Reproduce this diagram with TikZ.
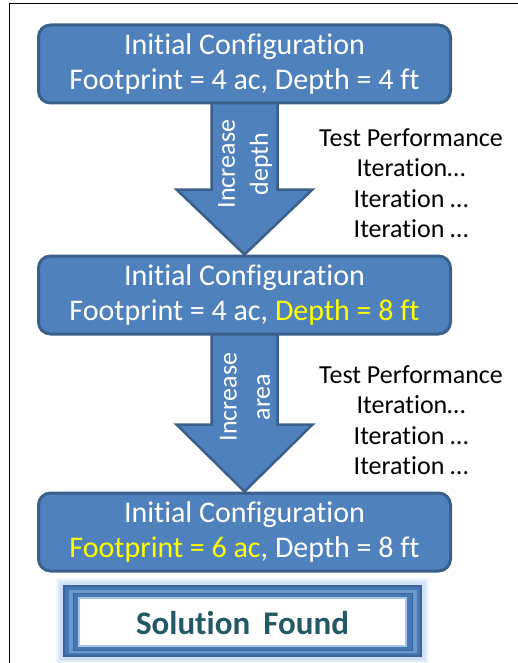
\documentclass[tikz,border=0pt]{standalone}
\usepackage{fontspec}
\setmainfont{Carlito}[Ligatures={NoCommon,NoRequired,NoContextual},RawFeature=-calt,RawFeature=-liga,RawFeature=-dlig]
\usetikzlibrary{calc,backgrounds}
\definecolor{boxfill}{HTML}{4F81BD}
\definecolor{boxline}{HTML}{3A5F8B}
\definecolor{soltext}{HTML}{215967}
\definecolor{glowc}{HTML}{C6DBF5}
\definecolor{hilite}{HTML}{FFFF00}
\definecolor{frameouter}{HTML}{4677B5}
\definecolor{framemid}{HTML}{6A98D0}
\definecolor{framedark}{HTML}{3B6596}
\definecolor{innerline}{HTML}{A9C6EA}
\tikzset{
  cfgbox/.style={draw=boxline, fill=boxfill, line width=3pt, rounded corners=12pt,
    minimum width=412pt, minimum height=78pt, align=center, text=white,
    font=\fontsize{30pt}{35pt}\selectfont},
  blockarrow/.style={draw=boxline, fill=boxfill, line width=2.5pt, line join=miter},
  arrowtext/.style={rotate=90, align=center, text=white, font=\fontsize{26pt}{33pt}\selectfont},
  sidetext/.style={align=center, text=black, font=\fontsize{26pt}{30.5pt}\selectfont},
  soltxt/.style={text=soltext, font=\fontsize{33pt}{38pt}\selectfont\bfseries},
}
\begin{document}
\begin{tikzpicture}[x=1pt,y=-1pt]
\useasboundingbox (0,0) rectangle (518,663);
% frame lines
\draw[line width=1.3pt] (9.5,663) -- (9.5,3.5) -- (518,3.5);

\node[cfgbox] (b1) at (244.5,64) {Initial Configuration\\Footprint = 4 ac, Depth = 4 ft};
\node[cfgbox] (b2) at (244.5,295) {Initial Configuration\\Footprint = 4 ac, \textcolor{hilite}{Depth = 8 ft}};
\node[cfgbox] (b3) at (244.5,532) {Initial Configuration\\\textcolor{hilite}{Footprint = 6 ac}, Depth = 8 ft};

\begin{scope}[on background layer]
\draw[blockarrow] ($(b1.south)+(-33,-3)$) -- ($(b2.north)+(-33,-65)$) -- ($(b2.north)+(-68,-65)$)
  -- (b2.north) -- ($(b2.north)+(68,-65)$) -- ($(b2.north)+(33,-65)$) -- ($(b1.south)+(33,-3)$) -- cycle;
\draw[blockarrow] ($(b2.south)+(-33,-3)$) -- ($(b3.north)+(-33,-67)$) -- ($(b3.north)+(-68,-67)$)
  -- (b3.north) -- ($(b3.north)+(68,-67)$) -- ($(b3.north)+(33,-67)$) -- ($(b2.south)+(33,-3)$) -- cycle;
\end{scope}

\node[arrowtext] (t1) at (245,164) {Increase\\depth};
\node[arrowtext] (t2) at (245,397) {Increase\\area};

\node[sidetext] (s1) at (411,183) {Test Performance\\Iteration…\\Iteration …\\Iteration …};
\node[sidetext] (s2) at (411,420) {Test Performance\\Iteration…\\Iteration …\\Iteration …};

% solution found box
\foreach \o/\op in {7/0.25,5/0.4,3/0.6}{
  \fill[glowc, opacity=\op] (63-\o,585-\o) rectangle (422+\o,657+\o);
}
\filldraw[draw=framedark, fill=frameouter, line width=2pt] (64,586) rectangle (421,656);
\filldraw[draw=framemid, fill=framemid, line width=1pt] (69,590) rectangle (416,652);
\filldraw[draw=framedark, fill=frameouter, line width=1pt] (73,593) rectangle (412,650);
\filldraw[draw=innerline, fill=white, line width=2pt] (79,598) rectangle (406,646);
\node[soltxt] (sol) at (242.5,623) {Solution\hspace{0.4em}Found};
\end{tikzpicture}
\end{document}
